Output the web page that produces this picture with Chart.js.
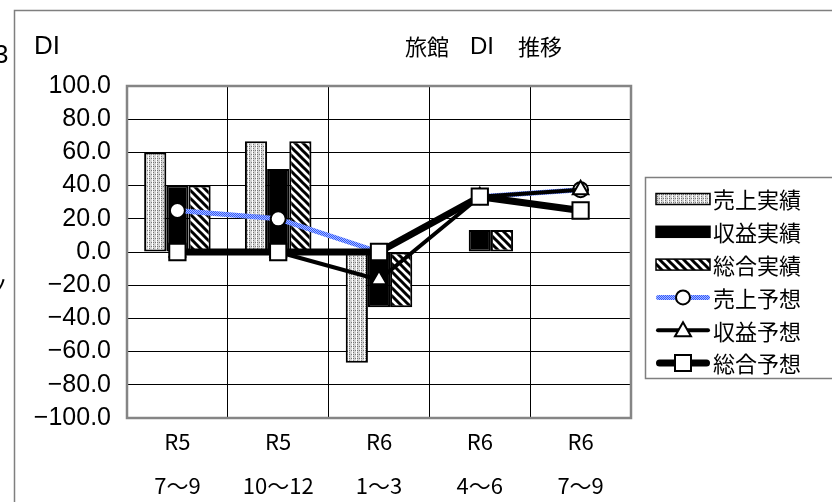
<!DOCTYPE html>
<html lang="ja">
<head>
<meta charset="utf-8">
<script src="https://cdn.jsdelivr.net/npm/chart.js@4.4.1/dist/chart.umd.min.js"></script>
<style>
  html, body { margin: 0; padding: 0; background: #fff; }
  #wrap { width: 832px; height: 502px; }
</style>
</head>
<body>
<div id="wrap"><canvas id="diChart" width="832" height="502"></canvas></div>
<script>
// 四半期
const kikan = [["R5", "7～9"], ["R5", "10～12"], ["R6", "1～3"], ["R6", "4～6"], ["R6", "7～9"]];

// 実績（棒）
const uriageJisseki = [60.0, 66.7, -66.7, 0.0, null];
const shuekiJisseki = [40.0, 50.0, -33.3, 13.3, null];
const sogoJisseki = [40.0, 66.7, -33.3, 13.3, null];

// 予想（折れ線）
const uriageYoso = [25.0, 20.0, 0.0, 33.3, 37.5];
const shuekiYoso = [0.0, 0.0, -16.7, 33.3, 37.5];
const sogoYoso = [0.0, 0.0, 0.0, 33.3, 25.0];

// 目盛
const yMin = -100;
const yMax = 100;
const yStep = 20;

const FONT = '"Noto Sans CJK JP", "Noto Sans", sans-serif';
const NUMFONT = '"Liberation Sans", Arial, sans-serif';

// 塗りつぶしパターン
function tile(w, h, paint) {
  const c = document.createElement("canvas");
  c.width = w;
  c.height = h;
  paint(c.getContext("2d"));
  return c;
}

const ctx = document.getElementById("diChart").getContext("2d");

// 網点（売上実績）
const tenTile = tile(4, 4, (g) => {
  g.fillStyle = "#d4d4d4";
  g.fillRect(0, 0, 4, 4);
  g.fillStyle = "#777777";
  g.fillRect(1, 0, 1, 1);
  g.fillRect(3, 2, 1, 1);
  g.fillRect(1, 2, 1, 1);
  g.fillStyle = "#ffffff";
  g.fillRect(0, 0, 1, 4);
});
const tenFill = ctx.createPattern(tenTile, "repeat");

// 斜線（総合実績）
const shaTile = tile(8, 8, (g) => {
  g.fillStyle = "#ffffff";
  g.fillRect(0, 0, 8, 8);
  g.strokeStyle = "#000000";
  g.lineWidth = 3;
  g.beginPath();
  for (let k = -8; k <= 8; k += 8) {
    g.moveTo(k - 2, -2);
    g.lineTo(k + 10, 10);
  }
  g.stroke();
});
const shaFill = ctx.createPattern(shaTile, "repeat");

// 青の点線（売上予想）
const aoTile = tile(2, 2, (g) => {
  g.fillStyle = "#a9bcff";
  g.fillRect(0, 0, 2, 2);
  g.fillStyle = "#2f57ff";
  g.fillRect(0, 0, 1, 1);
  g.fillRect(1, 1, 1, 1);
});
const aoLine = ctx.createPattern(aoTile, "repeat");

const hanrei = [
  { text: "売上実績", kind: "bar", fill: tenFill },
  { text: "収益実績", kind: "bar", fill: "#000000" },
  { text: "総合実績", kind: "bar", fill: shaFill },
  { text: "売上予想", kind: "line", stroke: aoLine, width: 5, mark: "circle" },
  { text: "収益予想", kind: "line", stroke: "#000000", width: 4, mark: "triangle" },
  { text: "総合予想", kind: "line", stroke: "#000000", width: 7, mark: "rect" },
];

function mark(g, type, x, y) {
  g.save();
  g.fillStyle = "#ffffff";
  g.strokeStyle = "#000000";
  g.lineWidth = 2;
  g.beginPath();
  if (type === "circle") {
    g.arc(x, y, 7, 0, Math.PI * 2);
  } else if (type === "triangle") {
    g.moveTo(x, y - 8);
    g.lineTo(x + 8, y + 6);
    g.lineTo(x - 8, y + 6);
    g.closePath();
  } else {
    g.rect(x - 8, y - 8, 16, 16);
  }
  g.fill();
  g.stroke();
  g.restore();
}

// 枠・見出し・凡例
const kazari = {
  id: "kazari",
  beforeDraw(chart) {
    const g = chart.ctx;
    g.save();
    g.fillStyle = "#ffffff";
    g.fillRect(0, 0, chart.width, chart.height);

    g.strokeStyle = "#7f7f7f";
    g.lineWidth = 1.5;
    g.beginPath();
    g.moveTo(14.5, 502);
    g.lineTo(14.5, 10.5);
    g.lineTo(832, 10.5);
    g.stroke();

    g.fillStyle = "#000000";
    g.textBaseline = "middle";
    g.textAlign = "left";
    g.font = "26px " + NUMFONT;
    g.fillText("3", -6, 56);
    g.fillText("DI", 34, 47);
    g.font = "22px " + FONT;
    g.fillText("ノ", -13, 287);

    // 見出し
    g.textAlign = "center";
    g.fillText("旅館", 427, 47);
    g.fillText("推移", 540, 47);
    g.font = "24px " + NUMFONT;
    g.fillText("DI", 482, 47);
    g.restore();
  },
  beforeDatasetsDraw(chart) {
    const a = chart.chartArea;
    const g = chart.ctx;
    g.save();
    g.strokeStyle = "#858585";
    g.lineWidth = 2.5;
    g.strokeRect(a.left, a.top, a.right - a.left, a.bottom - a.top);
    g.restore();
  },
  afterDraw(chart) {
    const g = chart.ctx;
    g.save();
    g.strokeStyle = "#7f7f7f";
    g.lineWidth = 1.5;
    g.strokeRect(645.5, 177.5, 200, 201);

    g.font = "22px " + FONT;
    g.textBaseline = "middle";
    g.textAlign = "left";
    hanrei.forEach((h, i) => {
      const y = 199 + i * 32.8;
      if (h.kind === "bar") {
        g.fillStyle = h.fill;
        g.fillRect(656, y - 5.5, 54, 11);
        g.strokeStyle = "#000000";
        g.lineWidth = 1.5;
        g.strokeRect(656, y - 5.5, 54, 11);
      } else {
        g.strokeStyle = h.stroke;
        g.lineWidth = h.width;
        g.lineCap = "round";
        g.beginPath();
        g.moveTo(656 + h.width / 2, y);
        g.lineTo(710 - h.width / 2, y);
        g.stroke();
        mark(g, h.mark, 683, y);
      }
      g.fillStyle = "#000000";
      g.fillText(h.text, 713, y + 1);
    });
    g.restore();
  },
};

function barSet(label, data, fill) {
  return {
    type: "bar",
    label: label,
    data: data,
    backgroundColor: fill,
    borderColor: "#000000",
    borderWidth: 2,
    borderSkipped: false,
    categoryPercentage: 0.66,
    barPercentage: 1.0,
    order: 10,
  };
}

function lineSet(label, data, stroke, width, style, radius, order) {
  return {
    type: "line",
    label: label,
    data: data,
    borderColor: stroke,
    borderWidth: width,
    borderCapStyle: "round",
    borderJoinStyle: "round",
    tension: 0,
    fill: false,
    pointStyle: style,
    pointRadius: radius,
    pointBorderWidth: 2,
    pointBackgroundColor: "#ffffff",
    pointBorderColor: "#000000",
    order: order,
  };
}

new Chart(ctx, {
  type: "bar",
  data: {
    labels: kikan,
    datasets: [
      barSet("売上実績", uriageJisseki, tenFill),
      barSet("収益実績", shuekiJisseki, "#000000"),
      barSet("総合実績", sogoJisseki, shaFill),
      lineSet("売上予想", uriageYoso, aoLine, 5, "circle", 7.5, 3),
      lineSet("収益予想", shuekiYoso, "#000000", 4, "triangle", 9, 2),
      lineSet("総合予想", sogoYoso, "#000000", 7, "rect", 11.5, 1),
    ],
  },
  options: {
    responsive: false,
    animation: false,
    events: [],
    layout: { padding: { top: 86, right: 201, bottom: 0, left: 0 } },
    plugins: {
      legend: { display: false },
      title: { display: false },
      tooltip: { enabled: false },
    },
    scales: {
      x: {
        offset: true,
        afterFit: (s) => { s.height = 84; },
        grid: { offset: true, color: "#000000", lineWidth: 1, drawTicks: false },
        border: { display: false },
        ticks: {
          color: "#000000",
          padding: 2,
          maxRotation: 0,
          autoSkip: false,
          font: { family: FONT, size: 22, lineHeight: "44px" },
        },
      },
      y: {
        min: yMin,
        max: yMax,
        afterFit: (s) => { s.width = 127; },
        grid: { color: "#000000", lineWidth: 1, drawTicks: false },
        border: { display: false },
        ticks: {
          stepSize: yStep,
          color: "#000000",
          padding: 16,
          font: { family: NUMFONT, size: 25 },
          callback: (v) => v.toFixed(1).replace("-", "−"),
        },
      },
    },
  },
  plugins: [kazari],
});
</script>
</body>
</html>
